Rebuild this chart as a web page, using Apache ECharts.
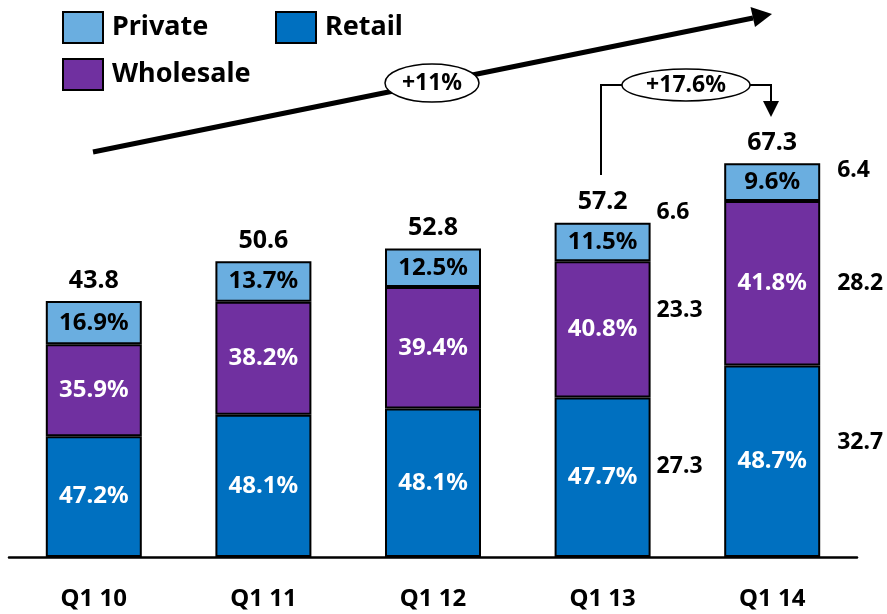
<!DOCTYPE html>
<html>
<head>
<meta charset="utf-8">
<script src="https://cdn.jsdelivr.net/npm/echarts@6/dist/echarts.min.js"></script>
<style>
  html, body { margin: 0; padding: 0; background: #fff; }
  #chart { width: 887px; height: 614px; }
</style>
</head>
<body>
<div id="chart"></div>
<script>
  // 数据
  var categories = ["Q1 10", "Q1 11", "Q1 12", "Q1 13", "Q1 14"];
  var totals = [43.8, 50.6, 52.8, 57.2, 67.3];
  var retailPct = [47.2, 48.1, 48.1, 47.7, 48.7];
  var wholesalePct = [35.9, 38.2, 39.4, 40.8, 41.8];
  var privatePct = [16.9, 13.7, 12.5, 11.5, 9.6];
  // 右侧数值（只有最后两年）
  var sideRetail = ["-", "-", "-", 27.3, 32.7];
  var sideWholesale = ["-", "-", "-", 23.3, 28.2];
  var sidePrivate = ["-", "-", "-", 6.6, 6.4];

  var FONT = "Noto Sans";
  var colors = { Private: "#6AAEE0", Retail: "#0070C0", Wholesale: "#7030A0" };

  // 百分比 -> 绝对值
  function seg(pcts) {
    return pcts.map(function (p, i) { return +(totals[i] * p / 100).toFixed(2); });
  }

  function mainSeries(name, pcts, txtColor) {
    return {
      name: name,
      type: "bar",
      stack: "main",
      barWidth: 96,
      data: seg(pcts).map(function (v, i) { return { value: v, pct: pcts[i] }; }),
      itemStyle: { color: colors[name], borderColor: "#000", borderWidth: 2 },
      label: {
        show: true,
        position: "inside",
        color: txtColor,
        fontFamily: FONT,
        fontWeight: "bold",
        fontSize: 24,
        formatter: function (p) { return p.data.pct.toFixed(1) + "%"; }
      }
    };
  }

  // 右侧标签用透明柱子叠在上面
  function sideSeries(name, vals, offsets) {
    return {
      name: name,
      type: "bar",
      stack: "side",
      barWidth: 96,
      barGap: "-100%",
      silent: true,
      data: vals.map(function (v, i) {
        if (v === "-") return "-";
        return {
          value: v,
          label: { offset: offsets[i] }
        };
      }),
      itemStyle: { color: "rgba(0,0,0,0)" },
      label: {
        show: true,
        position: "right",
        distance: 0,
        color: "#000",
        fontFamily: FONT,
        fontWeight: "bold",
        fontSize: 23,
        formatter: function (p) { return p.value.toFixed(1); }
      }
    };
  }

  function legendFor(name, left, top) {
    return {
      data: [name],
      left: left,
      top: top,
      itemWidth: 40,
      itemHeight: 31,
      icon: "rect",
      selectedMode: false,
      itemStyle: { borderColor: "#000", borderWidth: 2 },
      textStyle: { fontFamily: FONT, fontWeight: "bold", fontSize: 27, color: "#000", padding: [0, 0, 0, 4] }
    };
  }

  var chart = echarts.init(document.getElementById("chart"));
  chart.setOption({
    animation: false,
    grid: { left: 9, right: 30, top: 31, bottom: 57 },
    legend: [
      legendFor("Private", 57, 6),
      legendFor("Retail", 270, 6),
      legendFor("Wholesale", 57, 53)
    ],
    xAxis: {
      type: "category",
      data: categories,
      axisTick: { show: false },
      axisLine: { lineStyle: { color: "#000", width: 2.5 } },
      axisLabel: { color: "#000", fontFamily: FONT, fontWeight: "bold", fontSize: 24, margin: 30 }
    },
    yAxis: {
      type: "value",
      min: 0,
      max: 90,
      show: false,
      splitLine: { show: false }
    },
    series: [
      mainSeries("Retail", retailPct, "#fff"),
      mainSeries("Wholesale", wholesalePct, "#fff"),
      mainSeries("Private", privatePct, "#000"),
      sideSeries("sideRetail", sideRetail, [0, 0, 0, [6, -11], [17, -19]]),
      sideSeries("sideWholesale", sideWholesale, [0, 0, 0, [6, -19], [17, 0]]),
      sideSeries("sidePrivate", sidePrivate, [0, 0, 0, [6, -30], [17, -12]]),
      {
        name: "total",
        type: "scatter",
        symbolSize: 0,
        silent: true,
        data: totals,
        itemStyle: { opacity: 1 },
        label: {
          show: true,
          position: "top",
          distance: 8,
          color: "#000",
          fontFamily: FONT,
          fontWeight: "bold",
          fontSize: 25,
          formatter: function (p) { return p.value.toFixed(1); }
        }
      }
    ],
    graphic: [
      // 大箭头
      { type: "line", shape: { x1: 93, y1: 152, x2: 753, y2: 18 }, style: { stroke: "#000", lineWidth: 5 }, z: 10 },
      { type: "polygon", shape: { points: [[772, 14], [755, 27], [750.5, 7]] }, style: { fill: "#000" }, z: 10 },
      { type: "ellipse", shape: { cx: 432, cy: 83, rx: 47, ry: 19 }, style: { fill: "#fff", stroke: "#000", lineWidth: 1.5 }, z: 11 },
      { type: "text", x: 432, y: 83, style: { text: "+11%", fill: "#000", font: "bold 23px 'Noto Sans'", align: "center", verticalAlign: "middle" }, z: 12 },
      // 增长括号
      { type: "polyline", shape: { points: [[601, 175], [601, 85], [622, 85]] }, style: { stroke: "#000", lineWidth: 2, fill: null }, z: 10 },
      { type: "polyline", shape: { points: [[750, 85], [771, 85], [771, 103]] }, style: { stroke: "#000", lineWidth: 2, fill: null }, z: 10 },
      { type: "polygon", shape: { points: [[763, 101], [779, 101], [771, 117]] }, style: { fill: "#000" }, z: 10 },
      { type: "ellipse", shape: { cx: 686, cy: 85, rx: 64, ry: 16 }, style: { fill: "#fff", stroke: "#000", lineWidth: 1.5 }, z: 11 },
      { type: "text", x: 686, y: 85, style: { text: "+17.6%", fill: "#000", font: "bold 23px 'Noto Sans'", align: "center", verticalAlign: "middle" }, z: 12 }
    ]
  });
</script>
</body>
</html>
